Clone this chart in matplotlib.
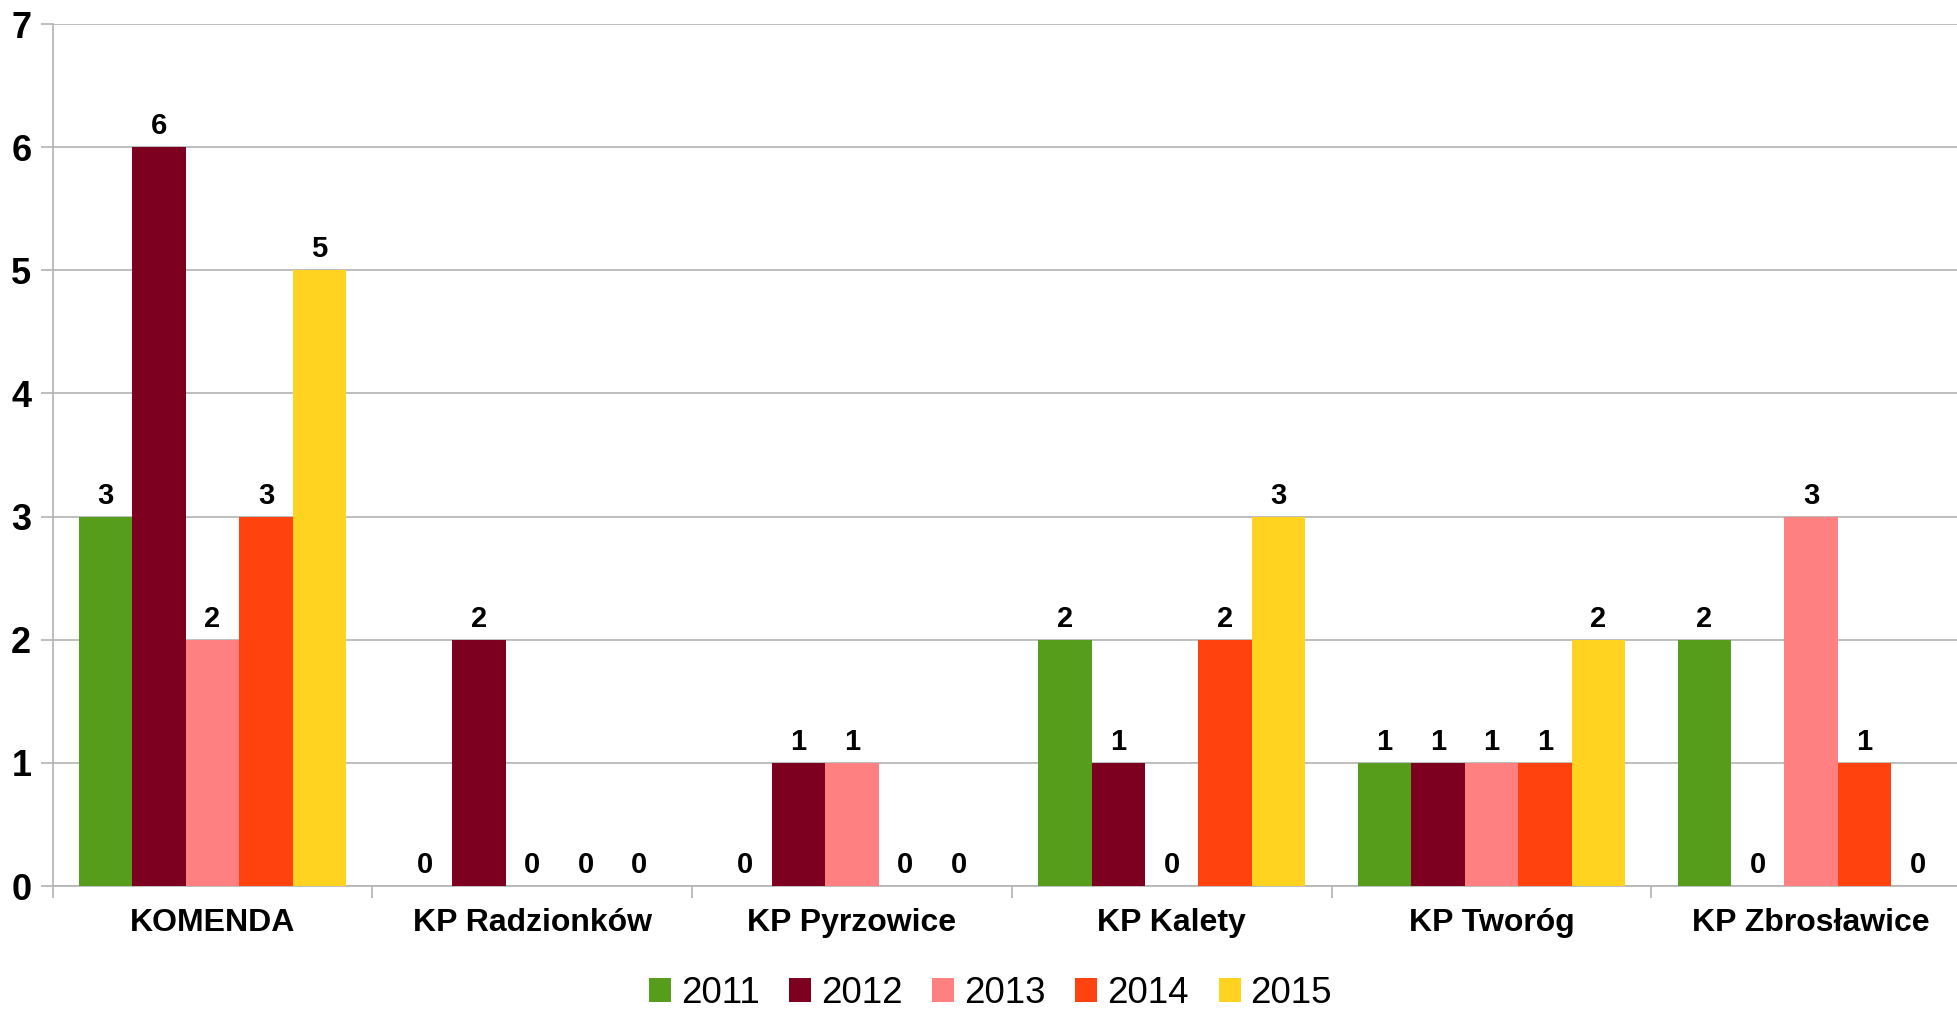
import matplotlib
matplotlib.use("Agg")
import matplotlib.pyplot as plt
import numpy as np

# Data
categories = ["KOMENDA", "KP Radzionków", "KP Pyrzowice", "KP Kalety", "KP Tworóg", "KP Zbrosławice"]
years = ["2011", "2012", "2013", "2014", "2015"]
v2011 = [3, 0, 0, 2, 1, 2]
v2012 = [6, 2, 1, 1, 1, 0]
v2013 = [2, 0, 1, 0, 1, 3]
v2014 = [3, 0, 0, 2, 1, 1]
v2015 = [5, 0, 0, 3, 2, 0]
series = [v2011, v2012, v2013, v2014, v2015]
colors = ["#579D1C", "#7E0021", "#FF8080", "#FF420E", "#FFD320"]
yticks = [0, 1, 2, 3, 4, 5, 6, 7]

plt.rcParams["font.family"] = ["Liberation Sans", "DejaVu Sans"]

W, H = 1958, 1010
fig = plt.figure(figsize=(W / 100, H / 100), dpi=100)
# plot area runs slightly past the right edge of the canvas
left_px, right_px, top_px, bottom_px = 52.7, 1971.0, 24, 886
ax = fig.add_axes([left_px / W, 1 - bottom_px / H,
                   (right_px - left_px) / W, (bottom_px - top_px) / H])

grid_c = "#b3b3b3"
x = np.arange(len(categories))
bw = 0.167
for j, (vals, col, yr) in enumerate(zip(series, colors, years)):
    bars = ax.bar(x + (j - 2) * bw, vals, width=bw, color=col, label=yr,
                  zorder=3, linewidth=0)
    ax.bar_label(bars, labels=[str(v) for v in vals], padding=5,
                 fontsize=21, fontweight="bold", color="black")

ax.set_xlim(-0.5, len(categories) - 0.5)
ax.set_ylim(0, 7)
ax.set_yticks(yticks)
ax.set_yticklabels([str(t) for t in yticks], fontsize=26, fontweight="bold")
ax.yaxis.grid(True, color=grid_c, linewidth=1.2, zorder=0)
ax.set_axisbelow(True)

# category boundaries carry the tick marks, labels sit at the centres
ax.set_xticks(np.arange(-0.5, len(categories), 1.0))
ax.set_xticklabels([])
ax.set_xticks(x, minor=True)
ax.set_xticklabels(categories, minor=True, fontsize=23, fontweight="bold")
ax.tick_params(axis="x", which="major", length=8.6, width=1.2, color=grid_c)
ax.tick_params(axis="x", which="minor", length=0, pad=16)
ax.tick_params(axis="y", length=8.4, width=1.2, color=grid_c, pad=7)

for s in ["top", "right"]:
    ax.spines[s].set_visible(False)
for s in ["left", "bottom"]:
    ax.spines[s].set_color(grid_c)
    ax.spines[s].set_linewidth(1.2)

fs = 26.5
px = fs * 100 / 72
fig.legend(loc="center", bbox_to_anchor=(990.5 / W, 1 - 993.5 / H), ncol=5,
           frameon=False, fontsize=fs, borderpad=0,
           handlelength=22 / px, handleheight=22 / px,
           handletextpad=10 / px, columnspacing=29.5 / px)

fig.savefig("out.png", dpi=100)
